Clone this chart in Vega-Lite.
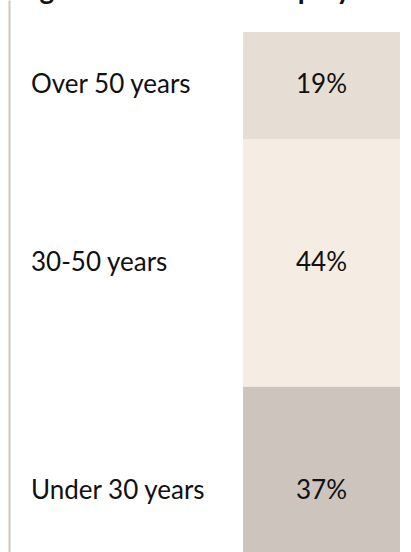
{
  "$schema": "https://vega.github.io/schema/vega-lite/v6.json",
  "width": 369,
  "height": 552,
  "autosize": {"type": "none"},
  "padding": {"left": 31, "top": 0, "right": 11, "bottom": 0},
  "background": "white",
  "config": {"view": {"stroke": null}},
  "datasets": {
    "ages": [
      {"group": "Over 50 years", "share": 0.19, "order": 1},
      {"group": "30-50 years", "share": 0.44, "order": 2},
      {"group": "Under 30 years", "share": 0.37, "order": 3}
    ],
    "heading": [
      {"title": "Age distribution of employees"}
    ]
  },
  "layer": [
    {
      "data": {"name": "ages"},
      "transform": [
        {"stack": "share", "groupby": [], "sort": [{"field": "order", "order": "ascending"}], "as": ["y0", "y1"]}
      ],
      "mark": {"type": "bar"},
      "encoding": {
        "x": {
          "datum": "value",
          "type": "nominal",
          "scale": {"domain": ["label", "value"], "paddingInner": 0.26, "paddingOuter": 0},
          "axis": null
        },
        "y": {
          "field": "y0",
          "type": "quantitative",
          "scale": {"domain": [-0.0568, 0.9235], "reverse": true, "clamp": true, "nice": false, "zero": false},
          "axis": {"domain": true, "domainColor": "#d0c5bd", "domainWidth": 2, "ticks": false, "labels": false, "grid": false, "title": null, "offset": 22}
        },
        "y2": {"field": "y1"},
        "color": {
          "field": "group",
          "type": "nominal",
          "scale": {"domain": ["Over 50 years", "30-50 years", "Under 30 years"], "range": ["#e6ddd4", "#f5ece3", "#cdc4be"]},
          "legend": null
        }
      }
    },
    {
      "data": {"name": "ages"},
      "transform": [
        {"stack": "share", "groupby": [], "sort": [{"field": "order", "order": "ascending"}], "as": ["y0", "y1"]},
        {"fold": ["y0", "y1"], "as": ["edge", "pos"]},
        {"aggregate": [{"op": "mean", "field": "pos", "as": "mid"}], "groupby": ["group", "share", "order"]}
      ],
      "mark": {"type": "text", "font": "Lato", "fontSize": 26, "align": "left", "baseline": "middle", "color": "#111111"},
      "encoding": {
        "x": {"datum": "label", "type": "nominal", "bandPosition": 0},
        "y": {"field": "mid", "type": "quantitative", "stack": null},
        "text": {"field": "group"}
      }
    },
    {
      "data": {"name": "ages"},
      "transform": [
        {"stack": "share", "groupby": [], "sort": [{"field": "order", "order": "ascending"}], "as": ["y0", "y1"]},
        {"fold": ["y0", "y1"], "as": ["edge", "pos"]},
        {"aggregate": [{"op": "mean", "field": "pos", "as": "mid"}], "groupby": ["group", "share", "order"]}
      ],
      "mark": {"type": "text", "font": "Lato", "fontSize": 26, "align": "center", "baseline": "middle", "color": "#111111"},
      "encoding": {
        "x": {"datum": "value", "type": "nominal"},
        "y": {"field": "mid", "type": "quantitative", "stack": null},
        "text": {"field": "share", "format": ".0%"}
      }
    },
    {
      "data": {"name": "heading"},
      "mark": {"type": "text", "font": "Lato", "fontSize": 28, "fontWeight": "bold", "align": "left", "baseline": "alphabetic", "color": "#111111", "dx": -11, "dy": -1},
      "encoding": {
        "x": {"datum": "label", "type": "nominal", "bandPosition": 0},
        "y": {"datum": -0.0568, "type": "quantitative"},
        "text": {"field": "title"}
      }
    }
  ]
}
